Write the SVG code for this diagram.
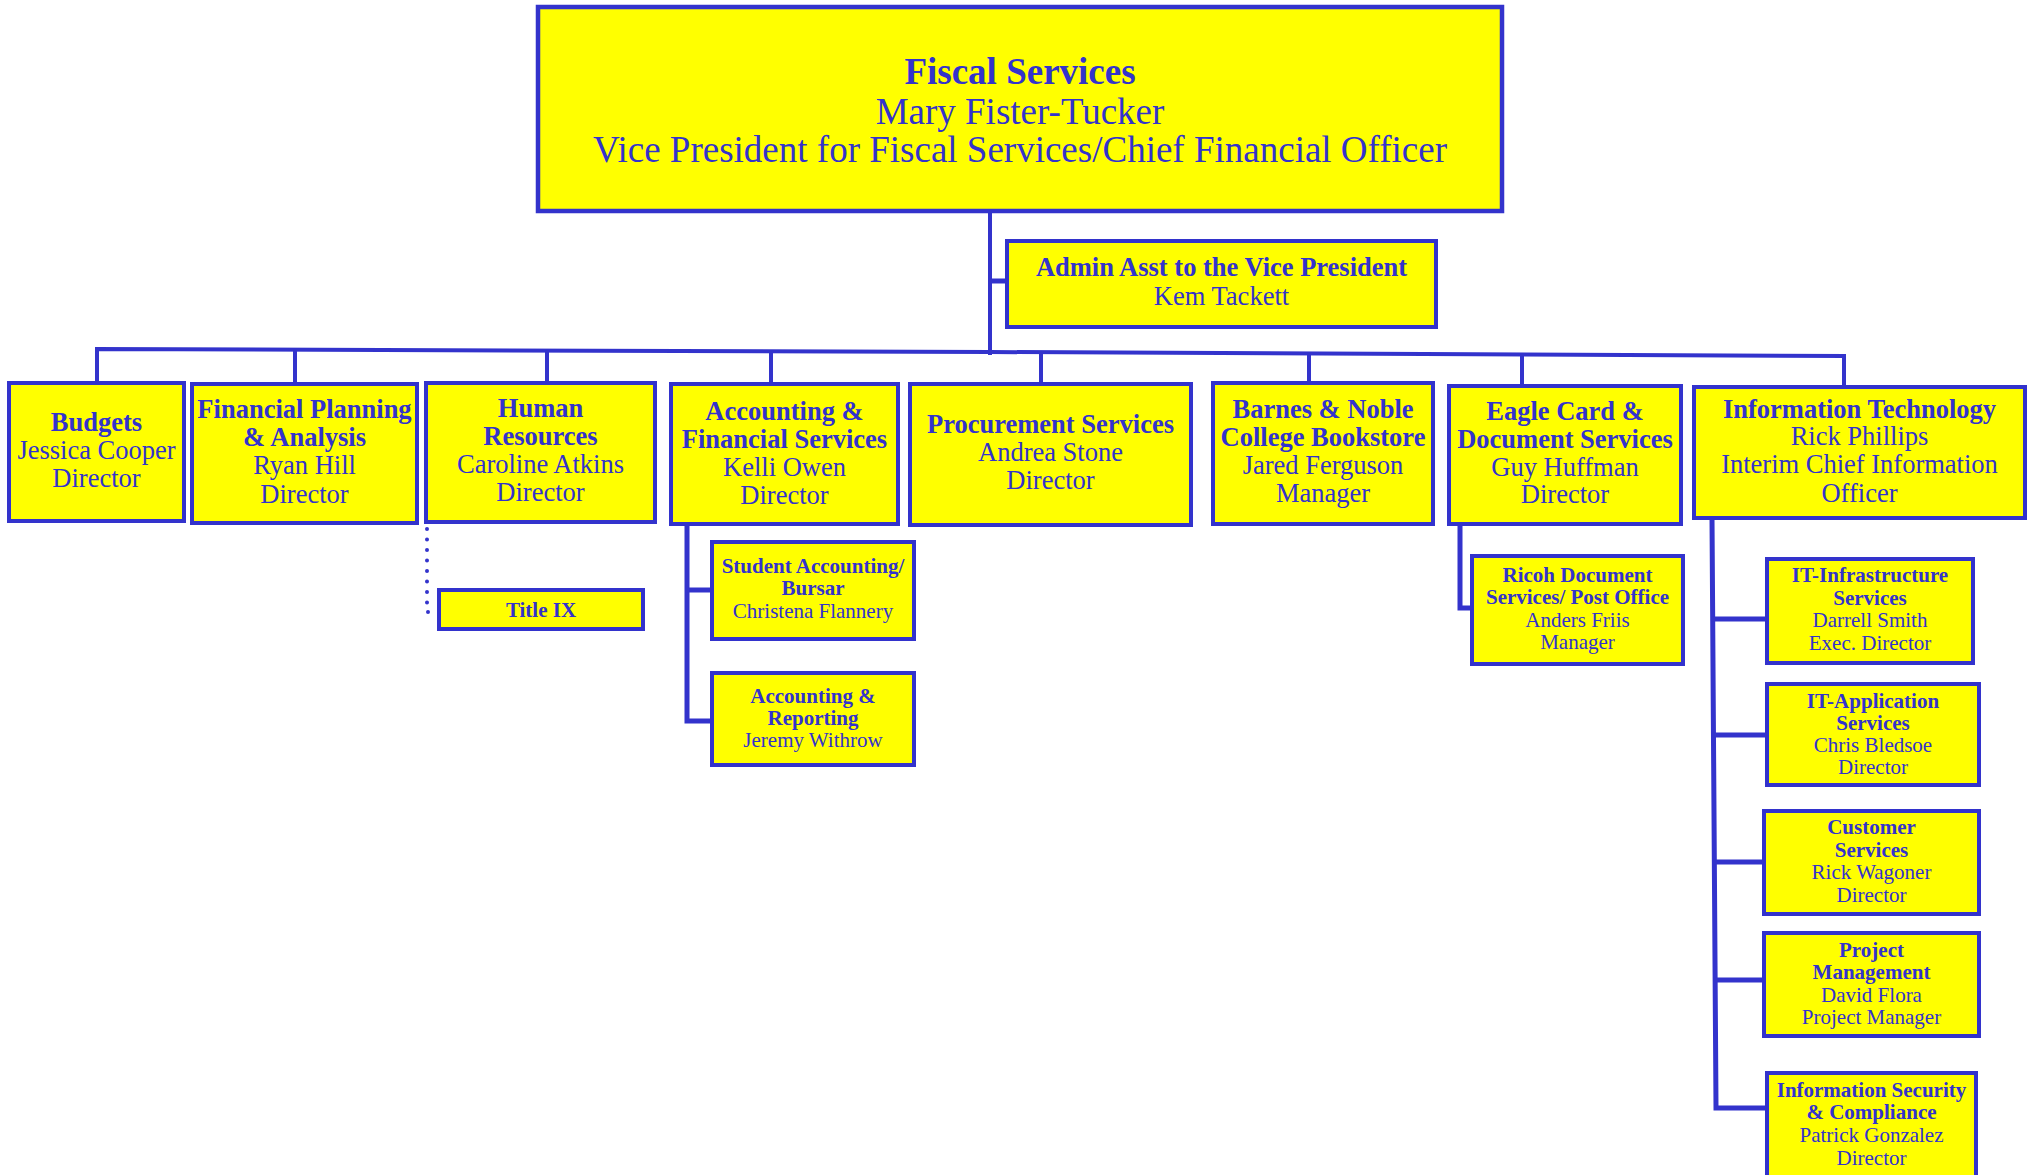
<svg xmlns="http://www.w3.org/2000/svg" width="2028" height="1175" viewBox="0 0 2028 1175">
<style>
.box{fill:#FFFF00;stroke:#3333CC;stroke-width:4}
.top{fill:#FFFF00;stroke:#3333CC;stroke-width:4.5}
.ln{fill:none;stroke:#3333CC;stroke-width:4}
.br{fill:none;stroke:#3333CC;stroke-width:5}
.dot{fill:none;stroke:#3333CC;stroke-width:4;stroke-linecap:round;stroke-dasharray:0 10.5}
text{font-family:"Liberation Serif","Times New Roman",serif;fill:#3333CC;text-anchor:middle}
.b{font-weight:bold}
.h{font-size:37px}
.m{font-size:26.5px}
.s{font-size:21px}
</style>
<rect width="2028" height="1175" fill="#FFFFFF"/>
<g id="connectors">
<line class="ln" x1="990" y1="211" x2="990" y2="355"/>
<line class="br" x1="990" y1="281" x2="1007" y2="281"/>
<polyline class="ln" points="97,383 97,349 990,352 1844,356 1844,387"/>
<line class="ln" x1="295" y1="349.7" x2="295" y2="384"/>
<line class="ln" x1="547" y1="350.5" x2="547" y2="383"/>
<line class="ln" x1="771" y1="351.3" x2="771" y2="384"/>
<line class="ln" x1="1041" y1="352.2" x2="1041" y2="384"/>
<line class="ln" x1="1309" y1="353.5" x2="1309" y2="383"/>
<line class="ln" x1="1522" y1="354.5" x2="1522" y2="386"/>
<polyline class="br" points="687,524 687,721 712,721"/>
<line class="br" x1="687" y1="590" x2="712" y2="590"/>
<polyline class="br" points="1460,526 1460,608 1472,608"/>
<polyline class="br" points="1712,518 1716,1108 1767,1108"/>
<line class="br" x1="1712" y1="619" x2="1767" y2="619"/>
<line class="br" x1="1713" y1="735" x2="1767" y2="735"/>
<line class="br" x1="1714" y1="862" x2="1764" y2="862"/>
<line class="br" x1="1715" y1="980" x2="1764" y2="980"/>
<polyline class="dot" points="427,529 427,612 437,612"/>
</g>
<g id="fiscal-services">
<rect class="top" x="538" y="7" width="964" height="204"/>
<text class="h b" x="1020" y="84">Fiscal Services</text>
<text class="h" x="1020" y="124">Mary Fister-Tucker</text>
<text class="h" x="1020" y="162">Vice President for Fiscal Services/Chief Financial Officer</text>
</g>
<g id="admin-asst">
<rect class="box" x="1007" y="241" width="429" height="86"/>
<text class="m b" x="1221.5" y="276">Admin Asst to the Vice President</text>
<text class="m" x="1221.5" y="305">Kem Tackett</text>
</g>
<g id="budgets">
<rect class="box" x="9" y="383" width="175" height="138"/>
<text class="m b" x="96.5" y="431">Budgets</text>
<text class="m" x="96.5" y="459">Jessica Cooper</text>
<text class="m" x="96.5" y="487">Director</text>
</g>
<g id="financial-planning">
<rect class="box" x="192" y="384" width="225" height="139"/>
<text class="m b" x="304.5" y="418">Financial Planning</text>
<text class="m b" x="304.5" y="446">&amp; Analysis</text>
<text class="m" x="304.5" y="474">Ryan Hill</text>
<text class="m" x="304.5" y="503">Director</text>
</g>
<g id="human-resources">
<rect class="box" x="426" y="383" width="229" height="139"/>
<text class="m b" x="540.5" y="417">Human</text>
<text class="m b" x="540.5" y="445">Resources</text>
<text class="m" x="540.5" y="473">Caroline Atkins</text>
<text class="m" x="540.5" y="501">Director</text>
</g>
<g id="title-ix">
<rect class="box" x="439" y="590" width="204" height="39"/>
<text class="s b" x="541" y="617">Title IX</text>
</g>
<g id="accounting-financial">
<rect class="box" x="671" y="384" width="227" height="140"/>
<text class="m b" x="784.5" y="420">Accounting &amp;</text>
<text class="m b" x="784.5" y="448">Financial Services</text>
<text class="m" x="784.5" y="476">Kelli Owen</text>
<text class="m" x="784.5" y="504">Director</text>
</g>
<g id="student-accounting">
<rect class="box" x="712" y="542" width="202" height="97"/>
<text class="s b" x="813" y="573">Student Accounting/</text>
<text class="s b" x="813" y="595">Bursar</text>
<text class="s" x="813" y="618">Christena Flannery</text>
</g>
<g id="accounting-reporting">
<rect class="box" x="712" y="673" width="202" height="92"/>
<text class="s b" x="813" y="703">Accounting &amp;</text>
<text class="s b" x="813" y="725">Reporting</text>
<text class="s" x="813" y="747">Jeremy Withrow</text>
</g>
<g id="procurement">
<rect class="box" x="910" y="384" width="281" height="141"/>
<text class="m b" x="1050.5" y="433">Procurement Services</text>
<text class="m" x="1050.5" y="461">Andrea Stone</text>
<text class="m" x="1050.5" y="489">Director</text>
</g>
<g id="bookstore">
<rect class="box" x="1213" y="383" width="220" height="141"/>
<text class="m b" x="1323" y="418">Barnes &amp; Noble</text>
<text class="m b" x="1323" y="446">College Bookstore</text>
<text class="m" x="1323" y="474">Jared Ferguson</text>
<text class="m" x="1323" y="502">Manager</text>
</g>
<g id="eagle-card">
<rect class="box" x="1449" y="386" width="232" height="138"/>
<text class="m b" x="1565" y="420">Eagle Card &amp;</text>
<text class="m b" x="1565" y="448">Document Services</text>
<text class="m" x="1565" y="476">Guy Huffman</text>
<text class="m" x="1565" y="503">Director</text>
</g>
<g id="ricoh">
<rect class="box" x="1472" y="556" width="211" height="108"/>
<text class="s b" x="1577.5" y="582">Ricoh Document</text>
<text class="s b" x="1577.5" y="604">Services/ Post Office</text>
<text class="s" x="1577.5" y="627">Anders Friis</text>
<text class="s" x="1577.5" y="649">Manager</text>
</g>
<g id="information-technology">
<rect class="box" x="1694" y="387" width="331" height="131"/>
<text class="m b" x="1859.5" y="418">Information Technology</text>
<text class="m" x="1859.5" y="445">Rick Phillips</text>
<text class="m" x="1859.5" y="473">Interim Chief Information</text>
<text class="m" x="1859.5" y="502">Officer</text>
</g>
<g id="it-infrastructure">
<rect class="box" x="1767" y="559" width="206" height="104"/>
<text class="s b" x="1870" y="582">IT-Infrastructure</text>
<text class="s b" x="1870" y="605">Services</text>
<text class="s" x="1870" y="627">Darrell Smith</text>
<text class="s" x="1870" y="650">Exec. Director</text>
</g>
<g id="it-application">
<rect class="box" x="1767" y="684" width="212" height="101"/>
<text class="s b" x="1873" y="708">IT-Application</text>
<text class="s b" x="1873" y="730">Services</text>
<text class="s" x="1873" y="752">Chris Bledsoe</text>
<text class="s" x="1873" y="774">Director</text>
</g>
<g id="customer-services">
<rect class="box" x="1764" y="811" width="215" height="103"/>
<text class="s b" x="1871.5" y="834">Customer</text>
<text class="s b" x="1871.5" y="857">Services</text>
<text class="s" x="1871.5" y="879">Rick Wagoner</text>
<text class="s" x="1871.5" y="902">Director</text>
</g>
<g id="project-management">
<rect class="box" x="1764" y="933" width="215" height="103"/>
<text class="s b" x="1871.5" y="957">Project</text>
<text class="s b" x="1871.5" y="979">Management</text>
<text class="s" x="1871.5" y="1002">David Flora</text>
<text class="s" x="1871.5" y="1024">Project Manager</text>
</g>
<g id="information-security">
<rect class="box" x="1767" y="1073" width="209" height="110"/>
<text class="s b" x="1871.5" y="1097">Information Security</text>
<text class="s b" x="1871.5" y="1119">&amp; Compliance</text>
<text class="s" x="1871.5" y="1142">Patrick Gonzalez</text>
<text class="s" x="1871.5" y="1165">Director</text>
</g>
</svg>
